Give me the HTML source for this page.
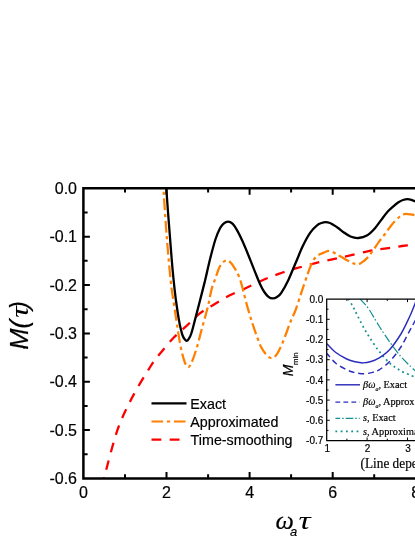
<!DOCTYPE html>
<html><head><meta charset="utf-8"><title>chart</title><style>html,body{margin:0;padding:0;background:#fff;overflow:hidden}body{width:415px;height:537px}text{stroke:#000;stroke-width:0.18px}</style></head><body>
<svg width="415" height="537" viewBox="0 0 415 537" style="display:block;will-change:transform">
<rect width="415" height="537" fill="#fff"/>
<defs><clipPath id="cm"><rect x="83.4" y="188.3" width="340" height="290.1"/></clipPath><clipPath id="ci"><rect x="327" y="299.2" width="100" height="141.4"/></clipPath></defs>
<g clip-path="url(#cm)" fill="none" stroke-linejoin="round">
<path d="M104.0 478.2 C104.1 477.8 102.3 484.0 104.6 475.9 C106.9 467.8 113.0 442.6 117.6 429.6 C122.2 416.6 126.5 408.4 132.0 397.8 C137.5 387.2 145.9 373.7 150.8 366.0 C155.7 358.3 157.9 356.3 161.6 351.7 C165.3 347.1 169.1 342.4 173.1 338.2 C177.1 334.0 181.3 330.8 185.7 326.7 C190.1 322.6 194.8 317.4 199.5 313.7 C204.2 310.0 208.9 307.6 214.0 304.5 C219.1 301.4 224.4 298.1 229.8 295.3 C235.2 292.5 241.1 290.4 246.6 287.8 C252.1 285.2 257.5 282.4 263.0 280.0 C268.5 277.6 273.8 275.6 279.4 273.6 C285.0 271.6 290.4 270.0 296.7 268.2 C303.0 266.4 309.9 264.5 317.3 262.7 C324.8 260.9 333.2 259.2 341.4 257.3 C349.6 255.5 359.4 253.1 366.6 251.6 C373.8 250.1 378.7 249.5 384.6 248.6 C390.5 247.7 396.4 246.8 402.0 246.0 C407.6 245.2 415.3 244.3 418.0 244.0" stroke="#ff0000" stroke-width="2.3" stroke-dasharray="9.75 8.29" stroke-dashoffset="5.6"/>
<path d="M163.4 188.0 C163.9 195.8 165.4 219.3 166.6 235.0 C167.8 250.7 169.6 270.3 170.8 282.0 C172.1 293.7 173.1 297.9 174.1 305.0 C175.1 312.1 175.9 317.2 177.0 324.3 C178.1 331.4 179.5 341.2 180.8 347.5 C182.1 353.8 183.5 358.7 184.7 362.0 C185.9 365.3 187.1 367.0 188.2 367.1 C189.3 367.2 190.1 365.8 191.4 362.9 C192.8 359.9 194.5 355.2 196.3 349.4 C198.1 343.6 200.1 335.3 202.0 328.2 C203.9 321.1 206.2 313.6 207.8 307.0 C209.4 300.4 210.4 293.6 211.7 288.9 C213.0 284.1 214.2 282.0 215.4 278.5 C216.6 275.0 217.8 270.7 219.1 268.0 C220.3 265.3 221.6 263.7 222.9 262.4 C224.2 261.1 225.7 260.2 227.0 260.3 C228.3 260.4 229.6 261.3 231.0 262.9 C232.4 264.4 234.1 267.2 235.5 269.6 C236.9 272.0 238.1 274.1 239.2 277.0 C240.3 279.9 240.8 281.4 242.2 286.7 C243.6 292.0 245.9 301.8 247.9 308.6 C249.9 315.5 251.7 321.4 253.9 327.8 C256.1 334.2 258.9 342.5 261.1 347.1 C263.3 351.7 265.4 353.7 267.2 355.5 C269.0 357.3 270.4 358.2 272.0 358.0 C273.6 357.8 275.0 356.9 276.8 354.3 C278.6 351.7 280.6 347.5 282.8 342.3 C285.0 337.1 287.9 328.4 290.0 323.0 C292.1 317.6 293.7 315.2 295.6 310.0 C297.5 304.8 299.6 297.9 301.6 291.9 C303.6 285.9 305.9 278.9 307.7 273.9 C309.5 268.9 310.9 264.8 312.5 261.8 C314.1 258.8 315.5 257.3 317.3 255.8 C319.1 254.3 321.3 253.7 323.3 252.9 C325.3 252.1 327.3 250.9 329.3 251.0 C331.3 251.1 333.0 252.2 335.4 253.4 C337.8 254.7 341.3 257.0 343.9 258.5 C346.5 260.0 349.2 261.4 351.1 262.3 C353.0 263.2 354.0 263.7 355.5 263.9 C357.0 264.1 358.5 264.2 360.0 263.6 C361.5 263.0 363.0 261.7 364.5 260.5 C366.0 259.3 367.3 258.0 368.8 256.2 C370.3 254.4 371.8 252.2 373.5 249.8 C375.2 247.4 377.0 244.5 378.9 241.9 C380.8 239.3 382.6 237.1 384.8 234.2 C387.0 231.3 389.5 227.3 392.0 224.4 C394.5 221.5 398.0 218.1 399.8 216.5 C401.6 214.9 402.0 215.0 403.0 214.6 C404.0 214.2 404.6 213.9 405.8 213.9 C407.0 213.9 408.7 214.1 410.2 214.3 C411.7 214.5 413.4 214.8 415.0 215.2 C416.6 215.6 419.2 216.3 420.0 216.5" stroke="#ff8000" stroke-width="2.25" stroke-dasharray="11.54 3.78 3.28 3.68" stroke-dashoffset="11.6"/>
<path d="M166.3 188.0 C166.6 192.0 167.4 204.2 168.0 212.0 C168.6 219.8 169.2 227.3 169.8 235.0 C170.4 242.7 171.0 250.5 171.6 258.0 C172.2 265.5 172.9 273.1 173.6 280.0 C174.3 286.9 175.0 292.9 175.8 299.3 C176.7 305.7 177.8 313.6 178.7 318.6 C179.5 323.6 180.2 326.7 180.9 329.5 C181.6 332.3 182.0 333.9 182.6 335.5 C183.2 337.1 183.8 338.1 184.5 339.0 C185.2 339.9 185.9 340.8 186.6 340.8 C187.3 340.8 188.0 340.0 188.8 338.8 C189.6 337.6 190.2 336.9 191.3 333.5 C192.4 330.1 193.8 324.3 195.3 318.6 C196.8 312.9 198.7 305.7 200.3 299.3 C202.0 292.9 203.5 286.8 205.2 280.0 C206.8 273.2 208.5 265.2 210.2 258.5 C211.9 251.8 213.8 244.5 215.4 239.5 C217.0 234.5 218.5 231.2 219.9 228.5 C221.3 225.8 222.2 224.8 223.6 223.6 C225.0 222.4 226.6 221.6 228.1 221.6 C229.6 221.6 231.0 222.3 232.5 223.7 C234.0 225.1 235.4 227.3 237.0 230.1 C238.6 232.9 240.3 236.4 242.2 240.5 C244.1 244.6 246.2 249.8 248.2 254.7 C250.2 259.6 252.1 264.7 254.1 269.6 C256.1 274.5 258.3 280.3 260.0 284.0 C261.7 287.7 262.9 289.9 264.3 292.0 C265.7 294.1 267.1 295.7 268.5 296.8 C269.9 297.9 271.3 298.4 272.7 298.4 C274.1 298.4 275.6 297.9 277.0 297.0 C278.4 296.1 279.2 296.0 281.1 293.1 C283.0 290.2 286.0 284.9 288.4 279.9 C290.8 274.9 293.2 268.6 295.6 263.0 C298.0 257.4 300.4 251.1 302.8 246.1 C305.2 241.1 307.7 236.4 310.1 232.9 C312.5 229.4 315.4 226.8 317.3 225.2 C319.2 223.5 320.1 223.5 321.5 223.0 C322.9 222.5 324.3 222.2 325.7 222.2 C327.1 222.2 328.6 222.5 330.0 223.0 C331.4 223.5 332.8 224.5 334.2 225.4 C335.6 226.3 336.9 227.2 338.5 228.3 C340.1 229.4 341.5 230.8 343.5 232.2 C345.5 233.6 348.0 235.5 350.5 236.5 C353.0 237.5 355.7 238.2 358.4 238.0 C361.1 237.8 364.0 237.3 366.8 235.6 C369.6 233.9 372.8 230.6 375.2 227.9 C377.6 225.2 379.4 222.4 381.5 219.6 C383.6 216.8 385.8 213.7 388.0 211.3 C390.2 208.9 392.8 206.8 394.5 205.3 C396.2 203.8 397.1 203.2 398.5 202.3 C399.9 201.4 401.5 200.5 403.0 200.0 C404.5 199.5 406.2 199.2 407.6 199.2 C409.0 199.2 410.3 199.5 411.5 199.8 C412.7 200.2 413.8 200.6 415.0 201.3 C416.2 202.0 418.3 203.6 419.0 204.0" stroke="#000" stroke-width="2.3"/>
</g>
<g stroke="#000" stroke-width="2.5" fill="none">
<path d="M430 188.3 H83.4 V478.4 H430" stroke-linejoin="miter"/>
<path d="M125.0 478.4 v-4.2 M125.0 188.3 v4.2 M166.5 478.4 v-6.5 M166.5 188.3 v6.5 M208.1 478.4 v-4.2 M208.1 188.3 v4.2 M249.6 478.4 v-6.5 M249.6 188.3 v6.5 M291.1 478.4 v-4.2 M291.1 188.3 v4.2 M332.7 478.4 v-6.5 M332.7 188.3 v6.5 M374.2 478.4 v-4.2 M374.2 188.3 v4.2 M83.4 212.5 h4.2 M83.4 236.7 h6.5 M83.4 260.8 h4.2 M83.4 285.0 h6.5 M83.4 309.2 h4.2 M83.4 333.4 h6.5 M83.4 357.5 h4.2 M83.4 381.7 h6.5 M83.4 405.9 h4.2 M83.4 430.1 h6.5 M83.4 454.2 h4.2 " stroke-width="2"/>
</g>
<g font-family="Liberation Sans, sans-serif" font-size="16" fill="#000">
<text x="77" y="194.0" text-anchor="end">0.0</text>
<text x="77" y="242.3" text-anchor="end">-0.1</text>
<text x="77" y="290.7" text-anchor="end">-0.2</text>
<text x="77" y="339.1" text-anchor="end">-0.3</text>
<text x="77" y="387.4" text-anchor="end">-0.4</text>
<text x="77" y="435.8" text-anchor="end">-0.5</text>
<text x="77" y="484.1" text-anchor="end">-0.6</text>
<text x="83.4" y="498.3" text-anchor="middle">0</text>
<text x="166.5" y="498.3" text-anchor="middle">2</text>
<text x="249.6" y="498.3" text-anchor="middle">4</text>
<text x="332.7" y="498.3" text-anchor="middle">6</text>
<text x="415.8" y="498.3" text-anchor="middle">8</text>
</g>
<g transform="translate(28.4,349.8) rotate(-90)" font-size="25.5" font-style="italic" font-family="Liberation Sans, sans-serif"><text x="0" y="0">M(</text><text transform="translate(32,0) scale(1.25,1)" font-family="Liberation Serif, serif" style="stroke:none">τ</text><text x="40.4" y="0">)</text></g>
<text x="275.6" y="529.3" font-family="Liberation Serif, serif" font-size="26" font-style="italic">ω</text><text x="290" y="536" font-family="Liberation Sans, sans-serif" font-size="13" font-style="italic">a</text><text transform="translate(298.6,529.3) scale(1.35,1)" font-family="Liberation Serif, serif" font-size="25" font-style="italic" style="stroke:none">τ</text>
<g fill="none"><path d="M151.5 403.4 H186.5" stroke="#000" stroke-width="2.3"/>
<path d="M151.5 421.5 H186" stroke="#ff8000" stroke-width="2.2" stroke-dasharray="11.6 3.8 3.3 3.7"/>
<path d="M151.5 439.6 H186" stroke="#ff0000" stroke-width="2.3" stroke-dasharray="9.8 8.4"/></g>
<g font-family="Liberation Sans, sans-serif" font-size="14.3" fill="#000">
<text x="190.3" y="408.7">Exact</text><text x="190.3" y="426.8">Approximated</text><text x="190.6" y="444.7">Time-smoothing</text></g>
<g clip-path="url(#ci)" fill="none">
<path d="M348.4 299.0 C349.2 300.3 351.7 304.2 353.2 307.0 C354.7 309.8 355.9 312.4 357.5 315.6 C359.1 318.8 361.0 322.8 363.0 326.4 C365.0 330.0 366.8 333.1 369.5 337.3 C372.2 341.5 375.8 347.1 379.2 351.4 C382.6 355.7 386.4 360.1 390.0 363.3 C393.6 366.6 397.3 368.8 400.9 370.9 C404.5 373.0 409.3 374.7 411.7 375.7 C414.1 376.7 413.9 376.6 415.0 377.0 C416.1 377.4 417.5 377.8 418.0 378.0" stroke="#109090" stroke-width="1.75" stroke-dasharray="1.8 3.3"/>
<path d="M360.2 299.0 C361.6 300.6 365.2 304.0 368.4 308.5 C371.6 313.0 375.6 320.6 379.2 326.2 C382.8 331.8 386.4 337.3 390.0 342.4 C393.6 347.5 397.3 352.4 400.9 356.6 C404.5 360.8 409.3 365.2 411.7 367.5 C414.1 369.8 413.9 369.6 415.0 370.5 C416.1 371.4 417.5 372.6 418.0 373.0" stroke="#109090" stroke-width="1.2" stroke-dasharray="8.5 2 1.5 2.5"/>
<path d="M327.0 353.6 C328.5 355.2 332.5 360.6 335.8 363.3 C339.1 366.0 343.5 368.2 346.7 369.8 C349.9 371.4 352.1 372.0 355.0 372.6 C357.9 373.2 361.2 373.7 364.0 373.7 C366.8 373.7 369.0 373.2 371.5 372.6 C374.0 372.0 376.1 371.7 379.2 369.8 C382.3 367.9 386.4 364.9 390.0 361.1 C393.6 357.3 397.6 352.1 400.9 347.0 C404.2 341.9 407.2 335.1 409.6 330.8 C412.0 326.5 413.6 323.6 415.0 321.0 C416.4 318.4 417.5 316.0 418.0 315.0" stroke="#2c2cbc" stroke-width="1.45" stroke-dasharray="6 3.8" stroke-dashoffset="1.4"/>
<path d="M327.0 343.8 C328.5 345.2 332.5 350.0 335.8 352.5 C339.1 355.0 343.5 357.4 346.7 359.0 C349.9 360.6 352.3 361.2 355.0 361.8 C357.7 362.4 360.3 362.9 363.0 362.9 C365.7 362.8 368.3 362.3 371.0 361.5 C373.7 360.7 376.0 359.9 379.2 357.9 C382.4 355.8 386.4 353.2 390.0 349.2 C393.6 345.2 397.6 339.4 400.9 334.0 C404.2 328.6 407.2 321.8 409.6 316.7 C412.0 311.6 413.6 307.1 415.0 303.7 C416.4 300.2 417.5 297.3 418.0 296.0" stroke="#2c2cbc" stroke-width="1.45"/>
</g>
<g stroke="#000" stroke-width="1.25" fill="none">
<path d="M430 299.1 H326.7 V440.5 H430"/>
<path d="M346.9 440.5 v-1.8 M346.9 299.1 v1.8 M367.1 440.5 v-3.0 M367.1 299.1 v3.0 M387.3 440.5 v-1.8 M387.3 299.1 v1.8 M407.5 440.5 v-3.0 M407.5 299.1 v3.0 M326.7 309.2 h1.8 M326.7 319.3 h3.0 M326.7 329.4 h1.8 M326.7 339.5 h3.0 M326.7 349.6 h1.8 M326.7 359.7 h3.0 M326.7 369.8 h1.8 M326.7 379.9 h3.0 M326.7 390.0 h1.8 M326.7 400.1 h3.0 M326.7 410.2 h1.8 M326.7 420.3 h3.0 M326.7 430.4 h1.8 " stroke-width="1"/>
</g>
<g font-family="Liberation Sans, sans-serif" font-size="10" fill="#000">
<text x="323.3" y="302.7" text-anchor="end">0.0</text>
<text x="323.3" y="322.9" text-anchor="end">-0.1</text>
<text x="323.3" y="343.1" text-anchor="end">-0.2</text>
<text x="323.3" y="363.3" text-anchor="end">-0.3</text>
<text x="323.3" y="383.5" text-anchor="end">-0.4</text>
<text x="323.3" y="403.7" text-anchor="end">-0.5</text>
<text x="323.3" y="423.9" text-anchor="end">-0.6</text>
<text x="323.3" y="444.1" text-anchor="end">-0.7</text>
<text x="327.2" y="452.4" text-anchor="middle">1</text>
<text x="367.6" y="452.4" text-anchor="middle">2</text>
<text x="408.0" y="452.4" text-anchor="middle">3</text>
</g>
<text transform="translate(292.7,376.2) rotate(-90)" font-family="Liberation Sans, sans-serif" font-size="14" font-style="italic">M<tspan font-style="normal" font-size="7.8" dy="5" dx="-0.5">min</tspan></text>
<text transform="translate(360.5,467.5) scale(0.95,1)" font-family="Liberation Serif, serif" font-size="14">(Line dependence</text>
<g fill="none"><path d="M335.4 384.8 H360" stroke="#2c2cbc" stroke-width="1.45"/>
<path d="M335.4 402.1 H359.7" stroke="#2c2cbc" stroke-width="1.45" stroke-dasharray="4.8 3.2"/>
<path d="M335.4 418.4 H359.7" stroke="#109090" stroke-width="1.2" stroke-dasharray="7.6 2 1.5 2" stroke-dashoffset="2.8"/>
<path d="M335.4 431.4 H359.7" stroke="#109090" stroke-width="1.75" stroke-dasharray="1.8 3.5"/></g>
<g font-family="Liberation Serif, serif" font-size="10.3" fill="#000">
<text x="363" y="388" font-style="italic">βω<tspan font-size="6" dy="2.5">a</tspan><tspan dy="-2.5" font-style="normal">, Exact</tspan></text>
<text x="363" y="405.4" font-style="italic">βω<tspan font-size="6" dy="2.5">a</tspan><tspan dy="-2.5" font-style="normal">, Approx</tspan></text>
<text x="363" y="421.2" font-style="italic">s<tspan font-style="normal">, Exact</tspan></text>
<text x="363" y="434.6" font-style="italic">s<tspan font-style="normal">, Approximated</tspan></text>
</g>
</svg>
</body></html>
